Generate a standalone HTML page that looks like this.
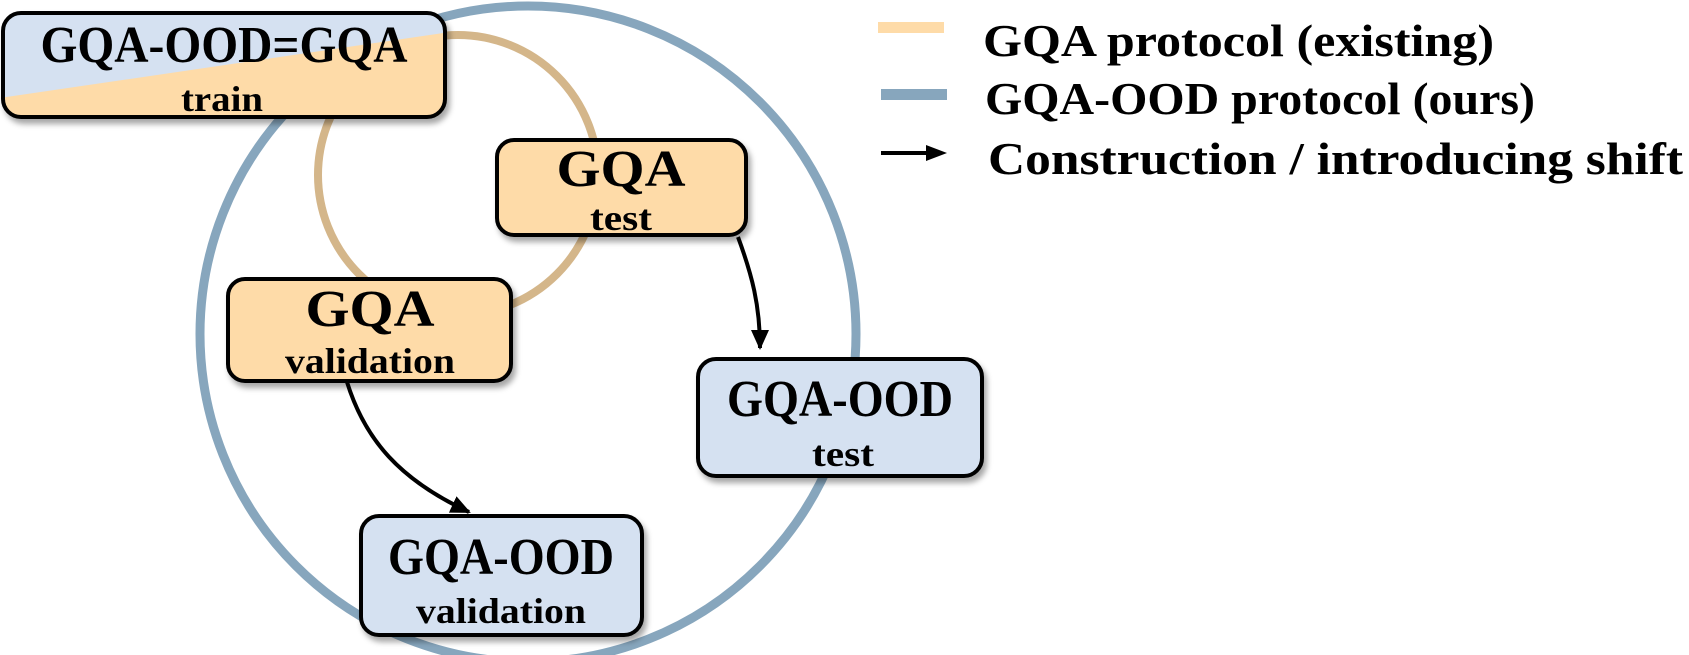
<!DOCTYPE html>
<html><head><meta charset="utf-8"><style>
html,body{margin:0;padding:0;background:#fff;}
svg{display:block;}
text{font-family:"Liberation Serif",serif;font-weight:bold;fill:#000;}
</style></head><body>
<svg width="1689" height="655" viewBox="0 0 1689 655" xmlns="http://www.w3.org/2000/svg">
<defs>
<filter id="sh" x="-10%" y="-10%" width="125%" height="130%">
<feDropShadow dx="3" dy="5" stdDeviation="3" flood-color="#000" flood-opacity="0.35"/>
</filter>
<clipPath id="tb"><rect x="3" y="13" width="442" height="104" rx="18"/></clipPath>
<marker id="ah2" markerWidth="20" markerHeight="18" refX="18" refY="9" orient="auto" markerUnits="userSpaceOnUse">
<path d="M0,0 L20,9 L0,18 z" fill="#000"/>
</marker>
</defs>
<circle cx="528" cy="334" r="328" fill="none" stroke="#87a6bd" stroke-width="9"/>
<circle cx="458" cy="175" r="140" fill="none" stroke="#d4b68a" stroke-width="8"/>

<path d="M738,237 C752,275 760,305 760,348" fill="none" stroke="#000" stroke-width="4" marker-end="url(#ah2)"/>
<path d="M347,382 C365,440 400,480 469,512" fill="none" stroke="#000" stroke-width="4" marker-end="url(#ah2)"/>

<g filter="url(#sh)">
<g clip-path="url(#tb)">
<rect x="3" y="13" width="442" height="104" fill="#fedba8"/>
<polygon points="0,0 450,0 450,32 0,98" fill="#d5e1f1"/>
</g>
<rect x="3" y="13" width="442" height="104" rx="18" fill="none" stroke="#000" stroke-width="4"/>
</g>
<text x="224" y="62" font-size="52" text-anchor="middle" textLength="367" lengthAdjust="spacingAndGlyphs">GQA-OOD=GQA</text>
<text x="222" y="111" font-size="36" text-anchor="middle" textLength="82" lengthAdjust="spacingAndGlyphs">train</text>

<rect x="497" y="140" width="249" height="95" rx="17" fill="#fedba8" stroke="#000" stroke-width="4" filter="url(#sh)"/>
<text x="621" y="186" font-size="52" text-anchor="middle" textLength="129" lengthAdjust="spacingAndGlyphs">GQA</text>
<text x="621" y="230" font-size="36" text-anchor="middle" textLength="62" lengthAdjust="spacingAndGlyphs">test</text>

<rect x="228" y="279" width="283" height="102" rx="17" fill="#fedba8" stroke="#000" stroke-width="4" filter="url(#sh)"/>
<text x="370" y="326" font-size="52" text-anchor="middle" textLength="129" lengthAdjust="spacingAndGlyphs">GQA</text>
<text x="370" y="373" font-size="36" text-anchor="middle" textLength="170" lengthAdjust="spacingAndGlyphs">validation</text>

<rect x="698" y="359" width="284" height="117" rx="18" fill="#d5e1f1" stroke="#000" stroke-width="4" filter="url(#sh)"/>
<text x="840" y="416" font-size="52" text-anchor="middle" textLength="226" lengthAdjust="spacingAndGlyphs">GQA-OOD</text>
<text x="843" y="466" font-size="36" text-anchor="middle" textLength="62" lengthAdjust="spacingAndGlyphs">test</text>

<rect x="361" y="516" width="281" height="119" rx="18" fill="#d5e1f1" stroke="#000" stroke-width="4" filter="url(#sh)"/>
<text x="501" y="574" font-size="52" text-anchor="middle" textLength="226" lengthAdjust="spacingAndGlyphs">GQA-OOD</text>
<text x="501" y="623" font-size="36" text-anchor="middle" textLength="170" lengthAdjust="spacingAndGlyphs">validation</text>

<rect x="878" y="22" width="66" height="11" fill="#fedba8"/>
<rect x="881" y="89" width="66" height="11" fill="#87a6bd"/>
<line x1="881" y1="153" x2="930" y2="153" stroke="#000" stroke-width="4"/>
<path d="M926,145 L947,153 L926,161 z" fill="#000"/>
<text x="983" y="56" font-size="46" textLength="511" lengthAdjust="spacingAndGlyphs">GQA protocol (existing)</text>
<text x="985" y="114" font-size="46" textLength="550" lengthAdjust="spacingAndGlyphs">GQA-OOD protocol (ours)</text>
<text x="988" y="174" font-size="46" textLength="695" lengthAdjust="spacingAndGlyphs">Construction / introducing shift</text>
</svg>
</body></html>
